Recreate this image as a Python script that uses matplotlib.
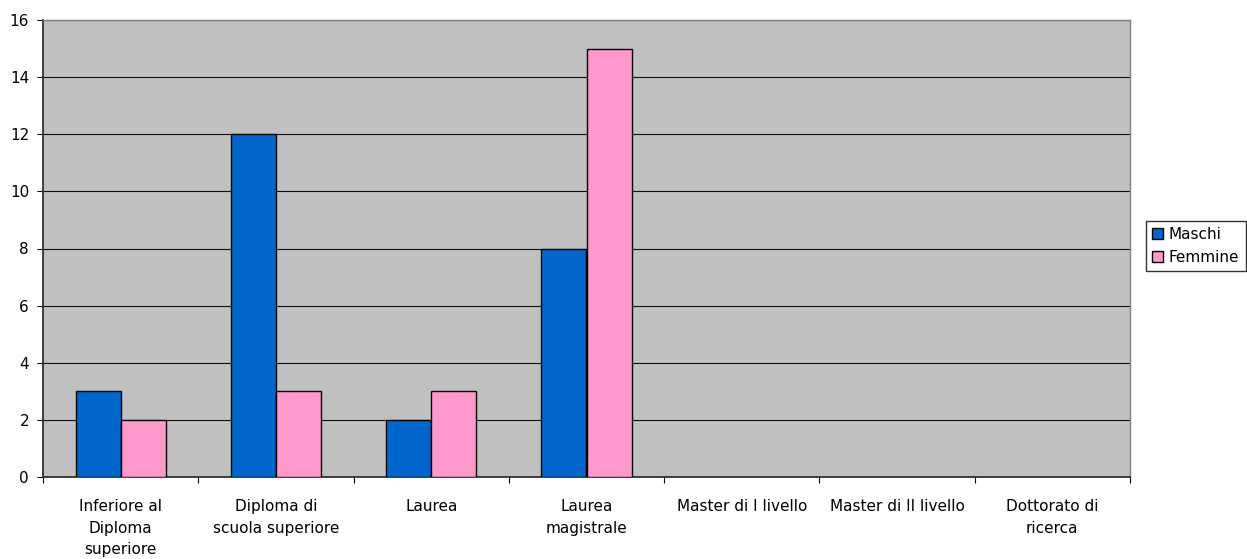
import matplotlib
matplotlib.use("Agg")
import matplotlib.pyplot as plt
import numpy as np

categories = ["Inferiore al\nDiploma\nsuperiore", "Diploma di\nscuola superiore", "Laurea",
              "Laurea\nmagistrale", "Master di I livello", "Master di II livello", "Dottorato di\nricerca"]
maschi = [3, 12, 2, 8, 0, 0, 0]
femmine = [2, 3, 3, 15, 0, 0, 0]
yticks = [0, 2, 4, 6, 8, 10, 12, 14, 16]

plt.rcParams['font.family'] = ['DejaVu Sans']
fig = plt.figure(figsize=(12.47, 5.59), dpi=100)
ax = fig.add_axes([43/1247, 1-477/559, (1130-43)/1247, (477-20)/559])
ax.set_facecolor("#C0C0C0")

x = np.arange(len(categories))
w = 0.29
bm = ax.bar(x - w/2, maschi, w, color="#0066CC", edgecolor="black", linewidth=1, label="Maschi", zorder=3)
bf = ax.bar(x + w/2, femmine, w, color="#FF99CC", edgecolor="black", linewidth=1, label="Femmine", zorder=3)
for bars, vals in ((bm, maschi), (bf, femmine)):
    for b, v in zip(bars, vals):
        if v == 0:
            b.set_visible(False)

ax.set_xlim(-0.5, len(categories) - 0.5)
ax.set_ylim(0, 16)
ax.set_yticks(yticks)
ax.set_yticklabels([str(v) for v in yticks], fontsize=11)
ax.yaxis.grid(True, color="#101010", linewidth=0.8, zorder=1)
ax.set_axisbelow(True)

ax.set_xticks(np.arange(len(categories) + 1) - 0.5)
ax.set_xticklabels([])
ax.set_xticks(x, minor=True)
ax.set_xticklabels(categories, minor=True, fontsize=11, linespacing=1.55, va="top")
ax.tick_params(axis="x", which="minor", length=0, pad=16)
ax.tick_params(axis="x", which="major", length=4, direction="out", color="black")
ax.tick_params(axis="y", length=4, direction="out", color="black", pad=6)

for s in ["top", "right"]:
    ax.spines[s].set_color("#808080")
    ax.spines[s].set_linewidth(1)
for s in ["left", "bottom"]:
    ax.spines[s].set_color("#303030")
    ax.spines[s].set_linewidth(1.3)

leg = fig.legend(loc="upper left", bbox_to_anchor=(1146/1247, 1-221/559), fontsize=11,
                 frameon=True, fancybox=False, edgecolor="black", handlelength=0.7, handleheight=0.7,
                 handletextpad=0.4, borderpad=0.4, labelspacing=0.5, borderaxespad=0)
leg.get_frame().set_linewidth(1)

fig.savefig("out.png", dpi=100)
